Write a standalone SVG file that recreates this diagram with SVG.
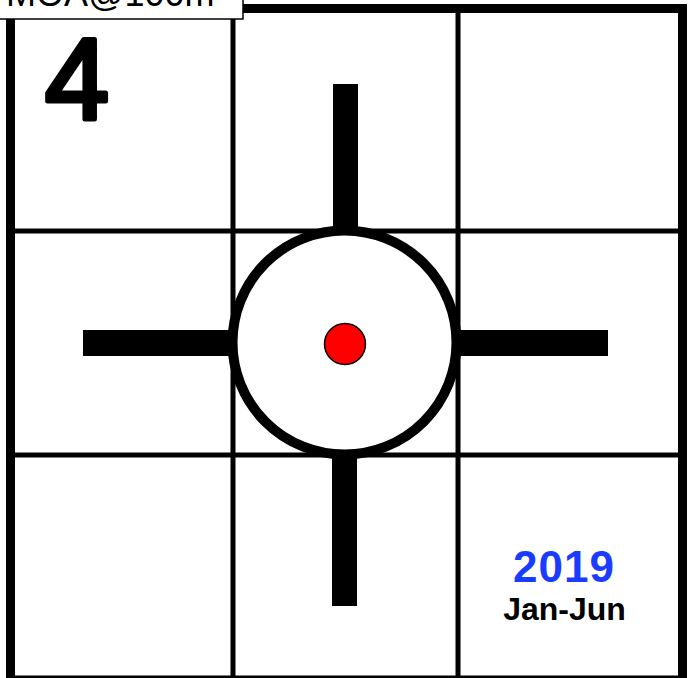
<svg xmlns="http://www.w3.org/2000/svg" width="690" height="678" viewBox="0 0 690 678">
  <style>
    .grid { stroke: #000; stroke-width: 5; fill: none; }
    .bar { fill: #000; }
    .txt { font-family: "Liberation Sans", Arial, sans-serif; font-weight: bold; }
  </style>
  <rect x="0" y="0" width="690" height="678" fill="#fff"/>
  <g id="grid">
    <line class="grid" x1="233" y1="8" x2="233" y2="680"/>
    <line class="grid" x1="458" y1="8" x2="458" y2="680"/>
    <line class="grid" x1="10" y1="231" x2="683" y2="231"/>
    <line class="grid" x1="10" y1="455" x2="683" y2="455"/>
    <rect x="10.5" y="8.5" width="672" height="671.5" fill="none" stroke="#000" stroke-width="9"/>
  </g>
  <g id="connectors">
    <rect class="bar" x="333" y="84" width="25" height="147"/>
    <rect class="bar" x="332" y="455" width="25" height="151"/>
    <rect class="bar" x="83" y="330" width="150" height="26"/>
    <rect class="bar" x="458" y="330" width="150" height="26"/>
  </g>
  <g id="target">
    <circle cx="344.5" cy="342.5" r="112" fill="#fff" stroke="#000" stroke-width="10"/>
  </g>
  <g id="center-dot">
    <circle cx="345" cy="344" r="20.5" fill="#ff0000" stroke="#000" stroke-width="1.5"/>
  </g>
  <g id="number">
    <text x="45" y="118.5" font-family="Liberation Sans, Arial, sans-serif" font-size="115" fill="#000" stroke="#000" stroke-width="5" stroke-linejoin="round" stroke-linecap="round">4</text>
  </g>
  <g id="date">
    <text class="txt" x="564" y="582" font-size="44" fill="#1a3cff" text-anchor="middle" letter-spacing="1">2019</text>
    <text class="txt" x="564.5" y="620" font-size="32" fill="#000" text-anchor="middle">Jan-Jun</text>
  </g>
  <g id="label">
    <rect x="-2" y="-10" width="245" height="29" fill="#fff" stroke="#000" stroke-width="1.5"/>
    <text x="6" y="6" font-family="Liberation Sans, Arial, sans-serif" font-size="36" fill="#000">MOA@100m</text>
  </g>
</svg>
